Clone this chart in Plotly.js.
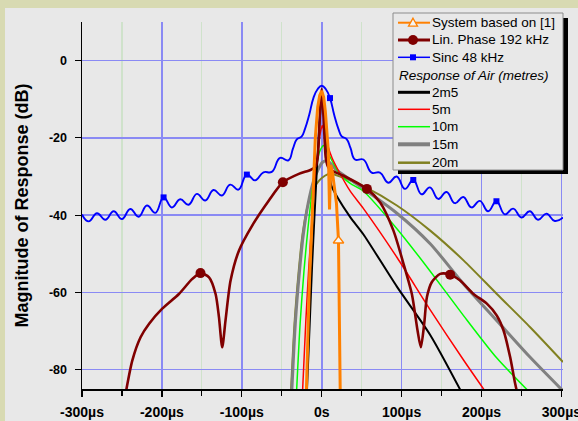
<!DOCTYPE html>
<html><head><meta charset="utf-8">
<script src="https://cdn.plot.ly/plotly-3.0.1.min.js"></script>
<style>
html,body{margin:0;padding:0;background:#d8dab2;width:578px;height:421px;overflow:hidden}
#chart{position:absolute;left:5px;top:8px;width:573px;height:413px}
</style></head><body><div id="chart"></div><script>
// ---------- data (µs, dB) ----------
const sincT = [-300,-291.7,-281.2,-270.8,-260.4,-250,-239.6,-229.2,-218.7,-208.3,-197.9,-187.5,-177.1,-166.7,-156.2,-145.8,-135.4,-125,-114.6,-104.2,-93.7,-83.3,-72.9,-62.5,-52.1,-41.7,-36,-31.2,-25,-20.8,-15.6,-10.4,-5.2,0,5.2,10.4,15.6,20.8,25,31.2,36,41.7,52.1,62.5,72.9,83.3,93.7,104.2,114.6,125,135.4,145.8,156.2,166.7,177.1,187.5,197.9,208.3,218.7,229.2,239.6,250,260.4,270.8,281.2,291.7,302];
const sincDb = [-39.8,-41.6,-39.5,-41.2,-39.0,-41.0,-38.4,-40.4,-37.5,-39.4,-35.4,-38.0,-35.9,-37.3,-34.5,-36.2,-33.5,-34.9,-32.1,-33.4,-29.5,-31.0,-28.9,-28.8,-25.2,-25.8,-22.8,-20.4,-19.6,-17.6,-14.0,-9.7,-7.4,-6.5,-7.4,-9.7,-14.0,-17.6,-19.6,-20.3,-22.6,-25.6,-25.6,-29.0,-29.0,-31.6,-30.0,-33.2,-30.9,-34.6,-32.8,-35.8,-34.0,-36.9,-35.3,-38.0,-36.3,-39.0,-36.4,-39.8,-38.3,-40.6,-39.0,-41.2,-39.6,-41.5,-40.6];
const sincMarkT = [-197.9,-93.7,10.4,114.6,218.7];
const sincMarkDb = [-35.4,-29.5,-9.7,-30.9,-36.4];

const linT = [-247,-237,-226.7,-216,-199.6,-178.7,-162,-151.7,-141,-132.8,-128.6,-124.5,-120.4,-114.1,-103.6,-87,-66.1,-48.6,-28.6,-14,-8,-5,-3.5,-2,0,2,3.5,5,8,12,27.3,56.6,73.2,89.8,102.4,112.9,119.9,124.1,128.3,131.7,137.9,148.3,160.8,173.3,190,206.7,219.2,227.5,235.9,242.1,247];
const linDb = [-88,-77.6,-71.6,-68.1,-64.2,-60.4,-56.5,-55.0,-56.1,-60.4,-66.4,-74.2,-67.3,-57.0,-49.2,-42.7,-36.2,-31.5,-29.3,-28.3,-27.5,-25,-20,-13,-7.3,-13,-20,-25,-27.5,-28.4,-29.8,-33.2,-36.7,-44.0,-52.6,-60.5,-69.8,-74.2,-68.1,-61.2,-57.3,-55.2,-55.4,-56.9,-60.4,-62.9,-66,-69.8,-76.8,-83.6,-88];
const linMarkT = [-151.7,-48.6,56.6,160.8];
const linMarkDb = [-55.0,-31.5,-33.2,-55.4];

const sysT = [-19.5,-17.5,-15.5,-13,-10.5,-8,-5,-2.5,0,2.5,4.5,6.5,8.3,9.8,11.3,13.5,16,18.5,21,22,23.3];
const sysDb = [-88,-70,-58,-46,-34,-20,-12,-9,-7.8,-9.5,-13,-18,-23.5,-38.5,-27,-29,-32.5,-37,-46.6,-59.5,-88];
const sysMarkT = [21];
const sysMarkDb = [-46.6];

const air2m5T = [-19,-15,-12,-9,-6,-3,-1,0.5,3,6,9,12,20,35.7,52.3,94.1,135.8,178];
const air2m5Db = [-88,-68,-53,-40,-28,-17,-11.5,-10,-15,-22,-28,-32.3,-35.5,-40.5,-45,-58.5,-71,-87];
const air5T = [-24.5,-20,-16,-12,-8,-4.5,-2,0.7,4,8,13,21,35.7,52.3,94.1,135.8,177.5,211];
const air5Db = [-88,-68,-53,-41,-30,-23,-19,-16.8,-19,-22.3,-25.2,-28.5,-33.8,-38.3,-50.9,-64.5,-77.5,-87.5];
const air10T = [-32,-27,-22,-17,-12,-7,-3,2.3,6,10.6,23,35.7,52.3,94.1,135.8,177.5,219.2,261];
const air10Db = [-88,-68,-54,-43,-34,-27.5,-23.8,-22,-23,-25,-29.5,-31.8,-33.8,-43.5,-54.5,-66,-77,-86];
const air15T = [-38,-33,-28,-23,-17,-10,-4,1,6.5,12,17,35.7,52.3,94.1,135.8,177.5,219.2,260.9,302];
const air15Db = [-88,-68,-55,-45,-37,-31,-28,-26.3,-25.9,-26.8,-28,-30.8,-33.2,-39.5,-47.4,-57.8,-67.3,-76.8,-85.5];
const air20T = [-39,-34,-29,-24,-18,-11,-3,4,10.6,23,35.7,52.3,94.1,135.8,177.5,219.2,260.9,302];
const air20Db = [-88,-68,-55,-45,-38,-33.5,-31,-29.8,-29.3,-30,-31,-32.5,-37.5,-44,-51.7,-60.4,-69,-78];

const xTickVals = [-300,-200,-100,0,100,200,300];
const xTickText = ['-300µs','-200µs','-100µs','0s','100µs','200µs','300µs'];
const xMinorVals = [-250,-150,-50,50,150,250];
const yTickVals = [-80,-60,-40,-20,0];
const yTickText = ['-80','-60','-40','-20','0'];

const legendNames = ['System based on [1]','Lin. Phase 192 kHz','Sinc 48 kHz','Response of Air (metres)','2m5','5m','10m','15m','20m'];

// ---------- colours ----------
const C = {sys:'#ff8000', lin:'#800000', sinc:'#0000ff', a2m5:'#000000', a5:'#ff0000', a10:'#00ff00', a15:'#808080', a20:'#808020'};

function line(x,y,color,width,smooth){
  return {x:x,y:y,type:'scatter',mode:'lines',showlegend:false,hoverinfo:'skip',
    line:{color:color,width:width,shape:'spline',smoothing:smooth||0.7}};
}
const traces = [
  line(air20T,air20Db,C.a20,2),
  line(air15T,air15Db,C.a15,3),
  line(air10T,air10Db,C.a10,1.5),
  line(air5T,air5Db,C.a5,1.5),
  line(air2m5T,air2m5Db,C.a2m5,2),
  line(sincT,sincDb,C.sinc,1.9,1.3),
  {x:sincMarkT,y:sincMarkDb,type:'scatter',mode:'markers',showlegend:false,hoverinfo:'skip',
    marker:{symbol:'square',size:6,color:C.sinc}},
  line(linT,linDb,C.lin,2.6),
  {x:linMarkT,y:linMarkDb,type:'scatter',mode:'markers',showlegend:false,hoverinfo:'skip',
    marker:{symbol:'circle',size:10,color:C.lin}},
  {x:sysT,y:sysDb,type:'scatter',mode:'lines',showlegend:false,hoverinfo:'skip',
    line:{color:C.sys,width:3,shape:'linear'}},
  {x:sysMarkT,y:sysMarkDb,type:'scatter',mode:'markers',showlegend:false,hoverinfo:'skip',
    marker:{symbol:'triangle-up',size:9,color:'#f6f6f6',line:{width:1.5,color:C.sys}}}
];

// ---------- manual legend (page pixel -> paper) ----------
const PL=82, PT=22, PW=481, PH=367;
const px=v=>(v-PL)/PW, py=v=>(PT+PH-v)/PH;
const shapes=[], annotations=[];
function rect(x0,y0,x1,y1,fill,lc,lw){shapes.push({type:'rect',xref:'paper',yref:'paper',x0:px(x0),x1:px(x1),y0:py(y1),y1:py(y0),fillcolor:fill,line:{color:lc||fill,width:lw||0},layer:'above'});}
function seg(x0,x1,y,color,w){shapes.push({type:'line',xref:'paper',yref:'paper',x0:px(x0),x1:px(x1),y0:py(y),y1:py(y),line:{color:color,width:w},layer:'above'});}
rect(398,18,568,174,'#000000');
rect(393,13,563,170,'#e8e8e8','#8c8c8c',1);
const rowsY=[22.7,40,57.3,75,92.3,109.3,126.7,144.3,162.7];
const lx0=398, lx1=430, mx=413;
seg(lx0,lx1,rowsY[0],C.sys,2);
shapes.push({type:'path',xref:'paper',yref:'paper',layer:'above',
  path:`M ${px(mx)},${py(rowsY[0]-4.5)} L ${px(mx+4.5)},${py(rowsY[0]+3.5)} L ${px(mx-4.5)},${py(rowsY[0]+3.5)} Z`,
  fillcolor:'#f4f4f4',line:{color:C.sys,width:1.3}});
seg(lx0,lx1,rowsY[1],C.lin,3);
shapes.push({type:'circle',xref:'paper',yref:'paper',layer:'above',x0:px(mx-5),x1:px(mx+5),y0:py(rowsY[1]+5),y1:py(rowsY[1]-5),fillcolor:C.lin,line:{width:0}});
seg(lx0,lx1,rowsY[2],C.sinc,1.5);
rect(mx-3,rowsY[2]-3,mx+3,rowsY[2]+3,C.sinc);
seg(lx0,lx1,rowsY[4],C.a2m5,3);
seg(lx0,lx1,rowsY[5],C.a5,1.5);
seg(lx0,lx1,rowsY[6],C.a10,1.5);
seg(lx0,lx1,rowsY[7],C.a15,4);
seg(lx0,lx1,rowsY[8],C.a20,2.5);
legendNames.forEach((n,i)=>{
  const hdr = (i===3);
  annotations.push({xref:'paper',yref:'paper',x:px(hdr?398:431),y:py(rowsY[i]),xanchor:'left',yanchor:'middle',
    text:hdr?'<i>'+n+'</i>':n,showarrow:false,borderpad:0,
    font:{family:'Liberation Sans, Arial, sans-serif',size:13.5,color:'#000'}});
});

const font = {family:'Liberation Sans, Arial, sans-serif', color:'#000'};
const layout = {
  width:573, height:413,
  margin:{l:77,r:15,t:14,b:32},
  paper_bgcolor:'#e8e8e8', plot_bgcolor:'#e8e8e8',
  font:font, showlegend:false,
  xaxis:{range:[-300,302], showline:true, linecolor:'#000', linewidth:1.5, zeroline:false,
    ticks:'outside', ticklen:6, tickwidth:1.2, tickcolor:'#000',
    tickmode:'array', tickvals:xTickVals, ticktext:xTickText, ticklabelstandoff:4,
    ticklabeloverflow:'allow',
    tickfont:{size:14, weight:'bold', color:'#000'},
    showgrid:true, gridcolor:'#8a8af4', gridwidth:1.6,
    minor:{tickmode:'array', tickvals:xMinorVals, ticks:'outside', ticklen:5, tickcolor:'#000', tickwidth:1.2, showgrid:true, gridcolor:'#cfe2cb', gridwidth:1.2}},
  yaxis:{range:[-85,10], showline:true, linecolor:'#000', linewidth:1.5, zeroline:false,
    ticks:'outside', ticklen:6, tickwidth:1.2, tickcolor:'#000',
    tickmode:'array', tickvals:yTickVals, ticktext:yTickText,
    tickfont:{size:12.5, weight:'bold', color:'#000'}, ticklabelstandoff:5,
    showgrid:true, gridcolor:'#8a8af4', gridwidth:1.6,
    title:{text:'Magnitude of Response (dB)', font:{size:18, weight:'bold', color:'#000'}, standoff:15}},
  shapes:shapes, annotations:annotations
};
Plotly.newPlot('chart', traces, layout, {displayModeBar:false, staticPlot:true});
</script></body></html>
